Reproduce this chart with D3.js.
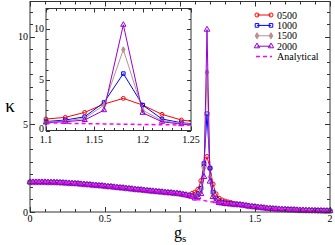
<!DOCTYPE html>
<html><head><meta charset="utf-8">
<script src="https://cdn.jsdelivr.net/npm/d3@7"></script>
<style>body{margin:0;background:#fff}svg{display:block}text{font-family:"Liberation Serif","DejaVu Serif",serif;fill:#000}</style>
</head><body><svg id="c" width="335" height="245"></svg>
<script>
// g_s grid: 0 .. 2 step 0.02
const gs = d3.range(0, 101).map(i => +(i * 0.02).toFixed(2));
// common part g = 0.00 .. 1.06
const headData = [1.70,1.70,1.70,1.70,1.70,1.70,1.69,1.69,1.69,1.68,1.67,1.66,1.65,1.64,1.63,1.62,1.61,1.59,1.58,1.56,1.55,1.53,1.52,1.50,1.49,1.47,1.45,1.44,1.42,1.40,1.38,1.37,1.35,1.33,1.31,1.29,1.27,1.26,1.24,1.22,1.20,1.19,1.17,1.15,1.14,1.12,1.10,1.09,1.07,1.06,1.03,1.00,0.97,0.93];
// peak region g = 1.08 .. 1.38
const peak0500 = [1.05,1.13,1.29,1.78,2.60,3.16,2.50,1.59,1.03,0.78,0.68,0.62,0.57,0.53,0.49,0.45];
const peak1000 = [0.92,0.88,1.03,1.35,2.76,5.60,2.50,1.13,0.76,0.60,0.54,0.50,0.48,0.46,0.44,0.43];
const peak1500 = [0.90,0.82,0.93,1.20,2.50,7.96,2.00,0.96,0.70,0.56,0.52,0.49,0.47,0.45,0.44,0.42];
const peak2000 = [0.88,0.78,0.86,1.03,2.00,10.40,1.74,0.86,0.62,0.52,0.50,0.48,0.46,0.45,0.43,0.42];
// analytical g = 1.02 .. 1.38
const analyticalMid = [0.98,0.93,0.88,0.83,0.75,0.71,0.68,0.65,0.62,0.59,0.57,0.54,0.52,0.50,0.48,0.46,0.45,0.43,0.42];
// common tail g = 1.40 .. 2.00
const tailData = [0.41,0.39,0.36,0.33,0.31,0.29,0.27,0.25,0.23,0.21,0.20,0.18,0.17,0.16,0.15,0.14,0.13,0.12,0.12,0.11,0.10,0.10,0.09,0.09,0.08,0.08,0.07,0.07,0.06,0.06,0.06];

const seriesNames = ["0500","1000","1500","2000"];
const seriesColors = ["#ff0000","#0000ff","#bc8f8f","#9400d3"];
const seriesSymbols = [d3.symbolCircle, d3.symbolSquare, d3.symbolDiamond, d3.symbolTriangle];
const seriesFill = ["none","none","#bc8f8f","none"];
const peaks = [peak0500, peak1000, peak1500, peak2000];
const analyticalName = "Analytical";
const analyticalColor = "#ff00ff";

const xTicksMain = [0,0.5,1,1.5,2], xTickLabelsMain = ["0","0.5","1","1.5","2"];
const yTicksMain = [0,5,10], yTickLabelsMain = ["0","5","10"];
const xTicksInset = [1.1,1.15,1.2,1.25], xTickLabelsInset = ["1.1","1.15","1.2","1.25"];
const yTicksInset = [0,5,10], yTickLabelsInset = ["0","5","10"];

const series = peaks.map((p, k) => {
  const vals = headData.concat(p, tailData);
  return {name: seriesNames[k], color: seriesColors[k], sym: seriesSymbols[k], fill: seriesFill[k],
          pts: gs.map((g, i) => [g, vals[i]])};
});
const analyticalVals = headData.slice(0, 51).concat(analyticalMid, tailData);
const analytical = gs.map((g, i) => [g, analyticalVals[i]]);

const svg = d3.select("#c");

function panel(opts) {
  const {x, y, xMinor, yMinor, xTicks, xLabels, yTicks, yLabels, symSize, fs, id, xMaj, yMaj, xMin, yMin, xLabOff, zeroUp} = opts;
  const g = svg.append("g");
  const [x0, x1] = x.range(), [y0, y1] = y.range();
  g.append("rect").attr("x", x0).attr("y", y1).attr("width", x1 - x0).attr("height", y0 - y1)
    .attr("fill", "#fff").attr("stroke", "none");
  g.append("clipPath").attr("id", id).append("rect")
    .attr("x", x0).attr("y", y1).attr("width", x1 - x0).attr("height", y0 - y1);
  const plot = g.append("g");
  const line = d3.line().x(d => x(d[0])).y(d => y(d[1]));
  const [dx0, dx1] = x.domain();
  series.forEach(s => {
    plot.append("path").attr("d", line(s.pts)).attr("fill", "none").attr("stroke", s.color)
      .attr("stroke-width", 1).attr("clip-path", `url(#${id})`);
    const vis = s.pts.filter(d => d[0] >= dx0 - 1e-9 && d[0] <= dx1 + 1e-9);
    plot.selectAll(null).data(vis).enter().append("path")
      .attr("d", d3.symbol().type(s.sym).size(s.sym === d3.symbolDiamond ? symSize * 0.8 : symSize))
      .attr("transform", d => `translate(${x(d[0])},${y(d[1])})`)
      .attr("fill", s.fill === "none" ? "none" : s.fill).attr("stroke", s.color).attr("stroke-width", 1);
  });
  plot.append("path").attr("d", line(analytical)).attr("fill", "none").attr("stroke", analyticalColor)
    .attr("stroke-width", 1.5).attr("stroke-dasharray", "4,3").attr("clip-path", `url(#${id})`);
  // frame
  g.append("rect").attr("x", x0).attr("y", y1).attr("width", x1 - x0).attr("height", y0 - y1)
    .attr("fill", "none").attr("stroke", "#333").attr("stroke-width", 1);
  const tk = g.append("g").attr("stroke", "#333").attr("stroke-width", 1);
  xMinor.forEach(v => {
    const major = xTicks.some(t => Math.abs(t - v) < 1e-9);
    const L = major ? xMaj : xMin, px = Math.round(x(v)) + 0.5;
    tk.append("line").attr("x1", px).attr("x2", px).attr("y1", y0).attr("y2", y0 - L);
    tk.append("line").attr("x1", px).attr("x2", px).attr("y1", y1).attr("y2", y1 + L);
  });
  yMinor.forEach(v => {
    const major = yTicks.some(t => Math.abs(t - v) < 1e-9);
    const L = major ? yMaj : yMin, py = Math.round(y(v)) + 0.5;
    tk.append("line").attr("y1", py).attr("y2", py).attr("x1", x0).attr("x2", x0 + L);
    tk.append("line").attr("y1", py).attr("y2", py).attr("x1", x1).attr("x2", x1 - L);
  });
  xTicks.forEach((v, i) => g.append("text").attr("x", x(v)).attr("y", y0 + fs + xLabOff)
    .attr("text-anchor", "middle").attr("font-size", fs).text(xLabels[i]));
  yTicks.forEach((v, i) => g.append("text").attr("x", x0 - 2).attr("y", y(v) + fs * 0.35 - (v === 0 ? zeroUp : 0))
    .attr("text-anchor", "end").attr("font-size", fs).text(yLabels[i]));
}

const xMain = d3.scaleLinear().domain([0, 2]).range([30, 330]);
const yMain = d3.scaleLinear().domain([0, 12]).range([212, 1.5]);
panel({x: xMain, y: yMain, id: "clipMain",
  xMinor: d3.range(0, 21).map(i => i * 0.1), yMinor: d3.range(0, 17).map(i => i * 5 / 7).filter(v => v <= 12),
  xTicks: xTicksMain, xLabels: xTickLabelsMain, yTicks: yTicksMain, yLabels: yTickLabelsMain,
  symSize: 14, fs: 10, xMaj: 5, yMaj: 5, xMin: 3, yMin: 3, xLabOff: 0, zeroUp: 0});

const xIn = d3.scaleLinear().domain([1.1, 1.25]).range([46, 191]);
const yIn = d3.scaleLinear().domain([0, 12]).range([130.5, 8.5]);
panel({x: xIn, y: yIn, id: "clipIn",
  xMinor: d3.range(0, 16).map(i => 1.1 + i * 0.01), yMinor: d3.range(0, 13),
  xTicks: xTicksInset, xLabels: xTickLabelsInset, yTicks: yTicksInset, yLabels: yTickLabelsInset,
  symSize: 12, fs: 10, xMaj: 4, yMaj: 4, xMin: 2.5, yMin: 2.5, xLabOff: 2.5, zeroUp: 2});

// legend
const leg = svg.append("g");
series.forEach((s, i) => {
  const ly = 15 + i * 10.4;
  leg.append("line").attr("x1", 257).attr("x2", 271).attr("y1", ly).attr("y2", ly).attr("stroke", s.color).attr("stroke-width", 1);
  [257, 271].forEach(lx => leg.append("path")
    .attr("d", d3.symbol().type(s.sym).size(s.sym === d3.symbolDiamond ? 11 : 13))
    .attr("transform", `translate(${lx},${ly})`).attr("fill", s.fill).attr("stroke", s.color).attr("stroke-width", 1));
  leg.append("text").attr("x", 277).attr("y", ly + 3.5).attr("font-size", 10).text(s.name);
});
const aly = 15 + 4 * 10.4;
leg.append("line").attr("x1", 256).attr("x2", 272).attr("y1", aly).attr("y2", aly)
  .attr("stroke", analyticalColor).attr("stroke-width", 1.5).attr("stroke-dasharray", "4,3");
leg.append("text").attr("x", 277).attr("y", aly + 3.5).attr("font-size", 10).text(analyticalName);

// axis titles
svg.append("text").attr("x", 10).attr("y", 112).attr("text-anchor", "middle").attr("font-size", 19).text("κ");
const gt = svg.append("text").attr("x", 174).attr("y", 238).attr("font-size", 16);
gt.append("tspan").text("g");
gt.append("tspan").attr("font-size", 11).attr("dy", 4).text("s");
</script></body></html>
